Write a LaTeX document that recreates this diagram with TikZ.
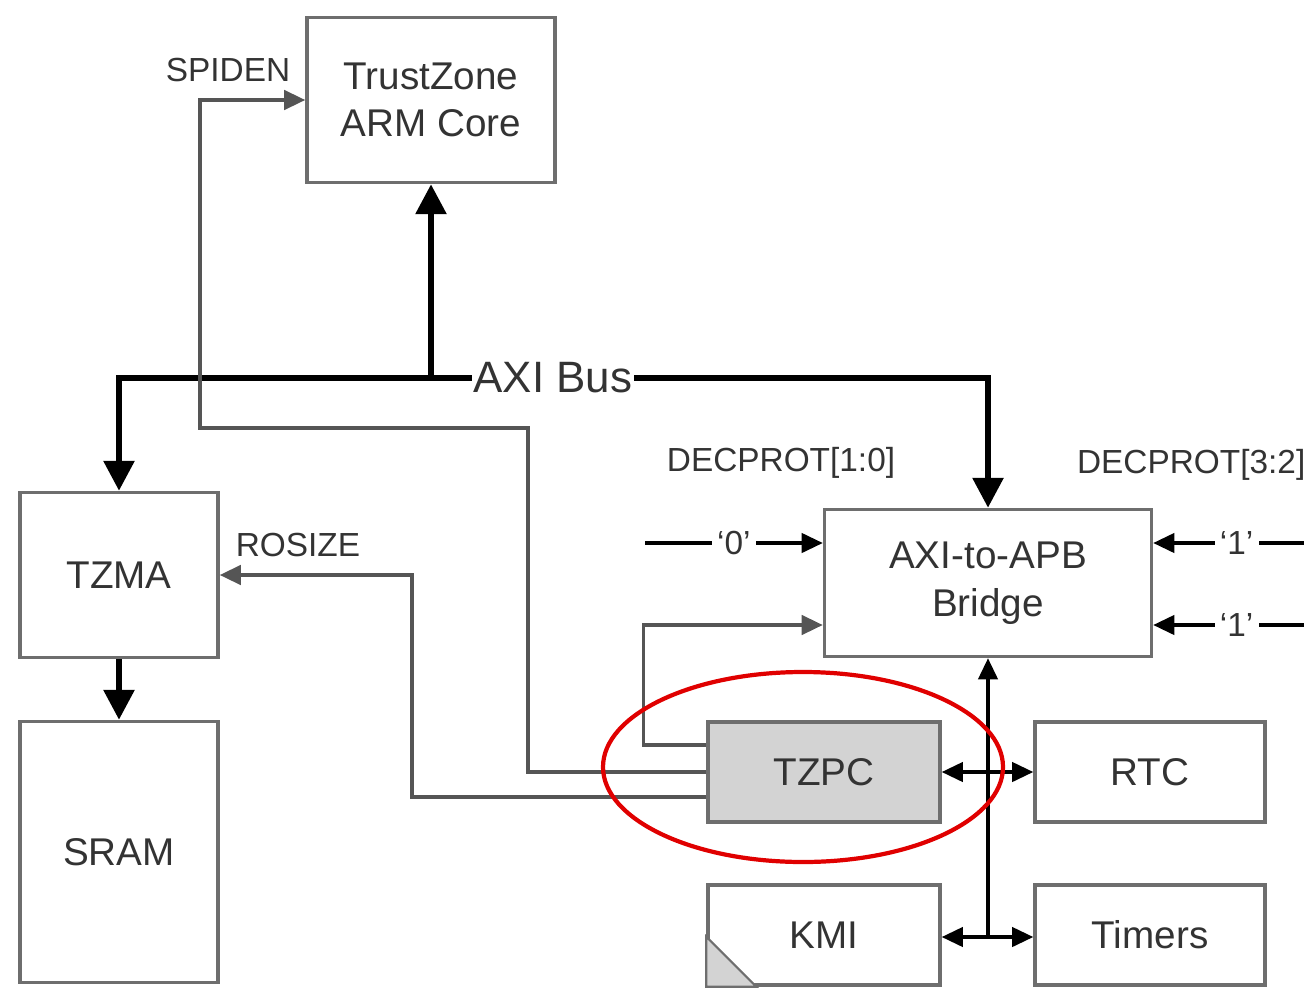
\documentclass[tikz,border=0pt]{standalone}
\usepackage{fontspec}
\setmainfont{Liberation Sans}
\usetikzlibrary{arrows.meta,calc}
\definecolor{boxgray}{HTML}{6E6E6E}
\definecolor{txtgray}{HTML}{333333}
\definecolor{siggray}{HTML}{555555}
\definecolor{tzfill}{HTML}{D3D3D3}
\definecolor{ringred}{HTML}{E00000}

\begin{document}
\begin{tikzpicture}[
    x=0.02cm, y=-0.02cm,
    block/.style={draw=boxgray,line width=2pt,text=txtgray,align=center,inner sep=0pt,
        font=\fontsize{22}{27}\selectfont},
    bus/.style={line width=3.4pt,-{Triangle[length=17pt,width=17pt]}},
    sig/.style={line width=2pt,siggray,-{Triangle[length=12pt,width=11pt]}},
    apb/.style={line width=1.8pt,black,-{Triangle[length=12pt,width=11pt]}},
    lbl/.style={text=txtgray,font=\fontsize{19}{21}\selectfont,inner sep=1pt}
]
\useasboundingbox (0,0) rectangle (1304,987);
\clip (0,0) rectangle (1304,987);

\node[block,minimum width=4.96cm,minimum height=3.3cm] (core) at (431,100) {TrustZone\\ARM Core};
\node[block,minimum width=3.96cm,minimum height=3.3cm] (tzma) at (119,575) {TZMA};
\node[block,minimum width=3.96cm,minimum height=5.22cm] (sram) at (119,852) {SRAM};
\node[block,minimum width=6.54cm,minimum height=2.94cm] (bridge) at (988,583) {AXI-to-APB\\Bridge};
\node[block,fill=tzfill,minimum width=4.64cm,minimum height=2cm] (tzpc) at (824,772) {TZPC};
\node[block,minimum width=4.6cm,minimum height=2cm] (rtc) at (1150,772) {RTC};
\node[block,minimum width=4.64cm,minimum height=2cm] (kmi) at (824,935) {KMI};
\node[block,minimum width=4.6cm,minimum height=2cm] (timers) at (1150,935) {Timers};
\filldraw[draw=boxgray,fill=tzfill,line width=1.2pt] (kmi.south west) -- ++(0,-50) -- ++(50,50) -- cycle;

\coordinate (busc) at (431,378);
\node[fill=white,inner xsep=1pt,inner ysep=0pt,font=\fontsize{25}{27}\selectfont,text=txtgray] (axi) at (553,378) {AXI Bus};
\draw[bus] (busc) -| (tzma.north);
\draw[bus] (busc) -- (core.south);
\draw[line width=3.4pt] (busc) -- (axi);
\draw[bus] (axi) -| (bridge.north);
\draw[bus] (tzma) -- (sram);

\draw[sig] ($(tzpc.west)+(0,-27)$) -- ++(-63,0) |- ($(bridge.west)+(0,42)$);
\draw[sig] (tzpc.west) -| (528,428) -| (200,100) -- (core.west);
\draw[sig] ($(tzpc.west)+(0,25)$) -| (412,575) -- (tzma.east);
\node[lbl] (spiden) at (228,70) {SPIDEN};
\node[lbl] (rosize) at (298,545) {ROSIZE};

\coordinate (zin) at (645,543);
\coordinate (oin1) at (1320,543);
\coordinate (oin2) at (1320,625);
\draw[apb] (zin) -- node[lbl,fill=white,inner xsep=3pt] {‘0’} ($(bridge.west)+(0,-40)$);
\draw[apb] (oin1) -- node[lbl,fill=white,inner xsep=3pt] {‘1’} ($(bridge.east)+(0,-40)$);
\draw[apb] (oin2) -- node[lbl,fill=white,inner xsep=3pt] {‘1’} ($(bridge.east)+(0,42)$);
\node[lbl] (dec10) at (781,463) {DECPROT[1:0]};
\node[lbl,anchor=west] (dec32) at (1075,465) {DECPROT[3:2]};

\coordinate (tap) at (988,772);
\coordinate (apbend) at (988,937);
\draw[apb] (apbend) -- (bridge.south);
\draw[apb] (tap) -- (tzpc.east);
\draw[apb] (tap) -- (rtc.west);
\draw[apb] (apbend) -- (kmi.east |- apbend);
\draw[apb] (apbend) -- (timers.west |- apbend);

\draw[ringred,line width=2.4pt] (803,767) ellipse [x radius=200,y radius=95];
\end{tikzpicture}
\end{document}
